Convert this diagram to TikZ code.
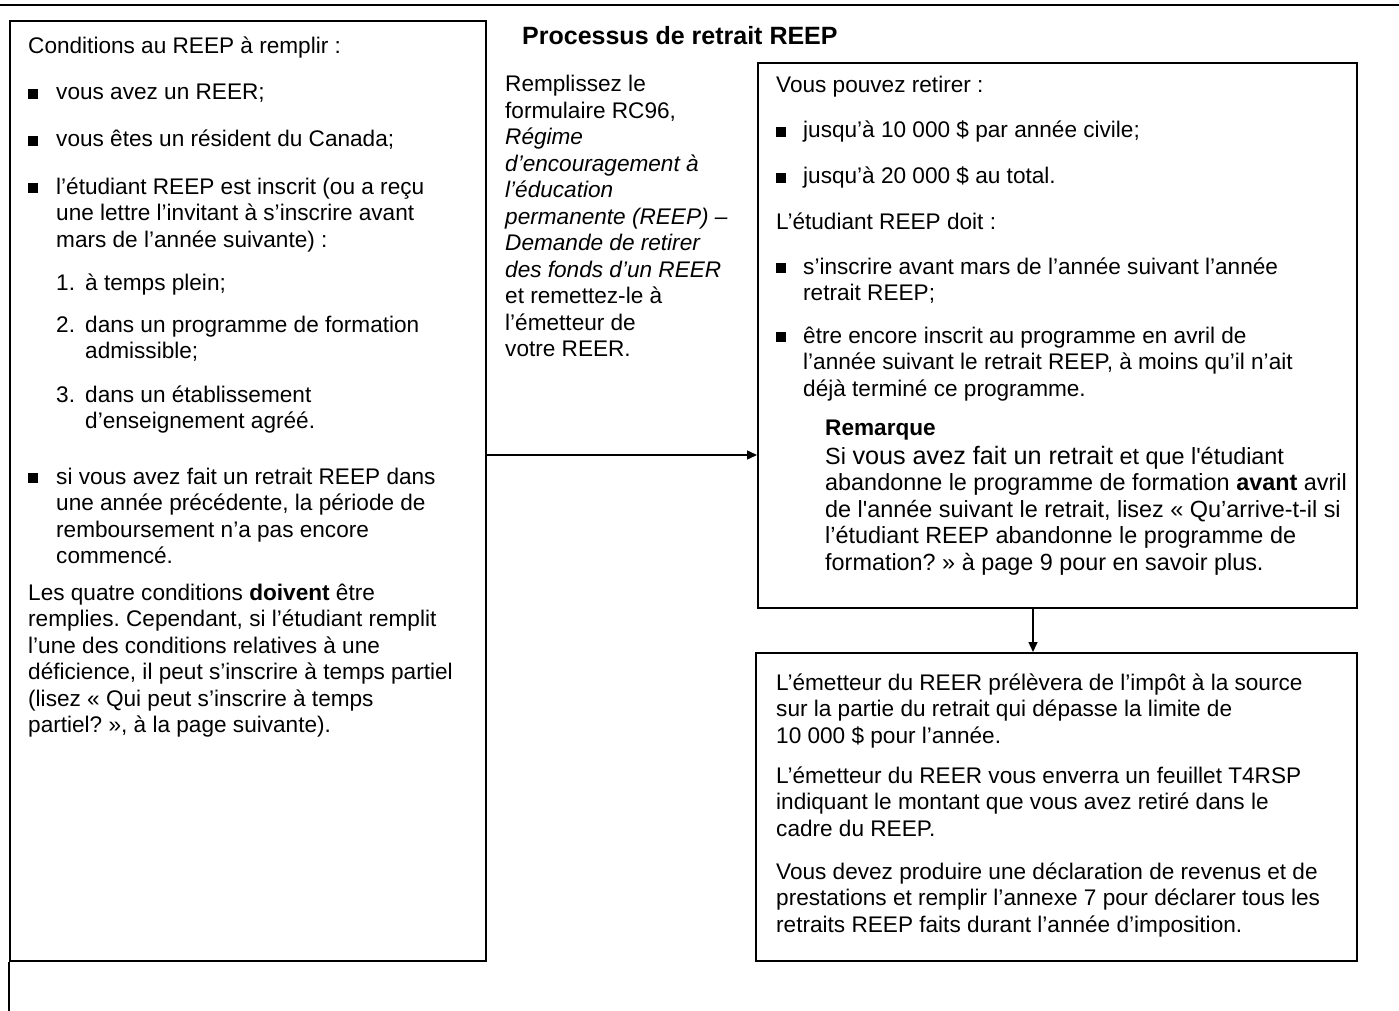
\documentclass[tikz,border=0pt]{standalone}
\usepackage{fontspec}
\usetikzlibrary{arrows.meta}
\newfontfamily\af{Liberation Sans}
\frenchspacing
\newcommand\msz{\fontsize{22.6}{26.5}\selectfont}
\newcommand\rsz{\fontsize{23.4}{26.5}\selectfont}
\newcommand\bigw{\fontsize{25.2}{26.5}\selectfont}
\newcommand\bsq{\rule[1pt]{10pt}{10pt}}
\newcommand\ml[1]{\begin{tabular}[t]{@{}l@{}}#1\end{tabular}}
\tikzset{
  boxst/.style={draw, line width=1.7pt, inner sep=0pt, anchor=north west},
  txt/.style={anchor=base west, inner sep=0pt, font=\af\frenchspacing\msz},
  rtxt/.style={anchor=base west, inner sep=0pt, font=\af\frenchspacing\rsz},
  ttl/.style={anchor=base west, inner sep=0pt, font=\af\bfseries\fontsize{25}{28}\selectfont},
  arr/.style={line width=1.4pt, -{Triangle[length=10pt,width=9pt]}},
}
\begin{document}
\begin{tikzpicture}[x=1pt,y=-1pt]
\useasboundingbox (0,0) rectangle (1399,1011);
% top rule
\coordinate (tl) at (0,5);
\coordinate (tr) at (1376,5);
\coordinate (tr2) at (1399,5);
\draw[line width=1.2pt] (tl) -- (tr);
\draw[line width=2.4pt] (tr) -- (tr2);

% boxes
\node[boxst, minimum width=476pt, minimum height=940pt] (lbox) at (9,20) {};
\node[boxst, minimum width=599pt, minimum height=545pt] (rbox) at (757,62) {};
\node[boxst, minimum width=601pt, minimum height=308pt] (bbox) at (755,652) {};

% left continuation line
\coordinate (lend) at (9,1011);
\draw[line width=1.7pt] (lbox.south west) -- (lend);

% connectors
\coordinate (ay) at (0,455);
\draw[arr] (lbox.east |- ay) -- (rbox.west |- ay);
\coordinate (ax) at (1033,0);
\draw[arr] (rbox.south -| ax) -- (bbox.north -| ax);

% title
\node[ttl] (title) at (522,45) {Processus de retrait REEP};

% left box text
\node[txt] (l0) at (28,54) {Conditions au REEP à remplir :};
\node[txt] (lb1) at (28,100) {\bsq};
\node[txt] (l1) at (56,100) {vous avez un REER;};
\node[txt] (lb2) at (28,147) {\bsq};
\node[txt] (l2) at (56,147) {vous êtes un résident du Canada;};
\node[txt] (lb3) at (28,194) {\bsq};
\node[txt] (l3) at (56,194) {\ml{l’étudiant REEP est inscrit (ou a reçu\\une lettre l’invitant à s’inscrire avant\\mars de l’année suivante) :}};
\node[txt] (ln1) at (56,290) {1.};
\node[txt] (l4) at (85,290) {à temps plein;};
\node[txt] (ln2) at (56,332) {2.};
\node[txt] (l5) at (85,332) {\ml{dans un programme de formation\\admissible;}};
\node[txt] (ln3) at (56,402) {3.};
\node[txt] (l6) at (85,402) {\ml{dans un établissement\\d’enseignement agréé.}};
\node[txt] (lb4) at (28,484) {\bsq};
\node[txt] (l7) at (56,484) {\ml{si vous avez fait un retrait REEP dans\\une année précédente, la période de\\remboursement n’a pas encore\\commencé.}};
\node[txt] (l8) at (28,600) {\ml{Les quatre conditions \textbf{doivent} être\\remplies. Cependant, si l’étudiant remplit\\l’une des conditions relatives à une\\déficience, il peut s’inscrire à temps partiel\\(lisez « Qui peut s’inscrire à temps\\partiel? », à la page suivante).}};

% middle text
\node[txt] (m) at (505,92) {\ml{Remplissez le\\formulaire RC96,\\\textit{Régime}\\\textit{d’encouragement à}\\\textit{l’éducation}\\\textit{permanente (REEP) –}\\\textit{Demande de retirer}\\\textit{des fonds d’un REER}\\et remettez-le à\\l’émetteur de\\votre REER.}};

% right box text
\node[txt] (r0) at (776,93) {Vous pouvez retirer :};
\node[txt] (rb1) at (776,138) {\bsq};
\node[txt] (r1) at (803,138) {jusqu’à 10 000 \$ par année civile;};
\node[txt] (rb2) at (776,184) {\bsq};
\node[txt] (r2) at (803,184) {jusqu’à 20 000 \$ au total.};
\node[txt] (r3) at (776,229) {L’étudiant REEP doit :};
\node[txt] (rb3) at (776,274) {\bsq};
\node[txt] (r4) at (803,274) {\ml{s’inscrire avant mars de l’année suivant l’année\\retrait REEP;}};
\node[txt] (rb4) at (776,343) {\bsq};
\node[txt] (r5) at (803,343) {\ml{être encore inscrit au programme en avril de\\l’année suivant le retrait REEP, à moins qu’il n’ait\\déjà terminé ce programme.}};
\node[txt] (rem) at (825,435) {\textbf{Remarque}};
\node[rtxt] (remt) at (825,464) {\ml{Si {\bigw vous avez fait un retrait} et que l'étudiant\\abandonne le programme de formation \textbf{avant} avril\\de l'année suivant le retrait, lisez « Qu’arrive-t-il si\\l’étudiant REEP abandonne le programme de\\formation? » à page 9 pour en savoir plus.}};

% bottom box text
\node[txt] (s1) at (776,690) {\ml{L’émetteur du REER prélèvera de l’impôt à la source\\sur la partie du retrait qui dépasse la limite de\\10 000 \$ pour l’année.}};
\node[txt] (s2) at (776,783) {\ml{L’émetteur du REER vous enverra un feuillet T4RSP\\indiquant le montant que vous avez retiré dans le\\cadre du REEP.}};
\node[txt] (s3) at (776,879) {\ml{Vous devez produire une déclaration de revenus et de\\prestations et remplir l’annexe 7 pour déclarer tous les\\retraits REEP faits durant l’année d’imposition.}};
\end{tikzpicture}
\end{document}
